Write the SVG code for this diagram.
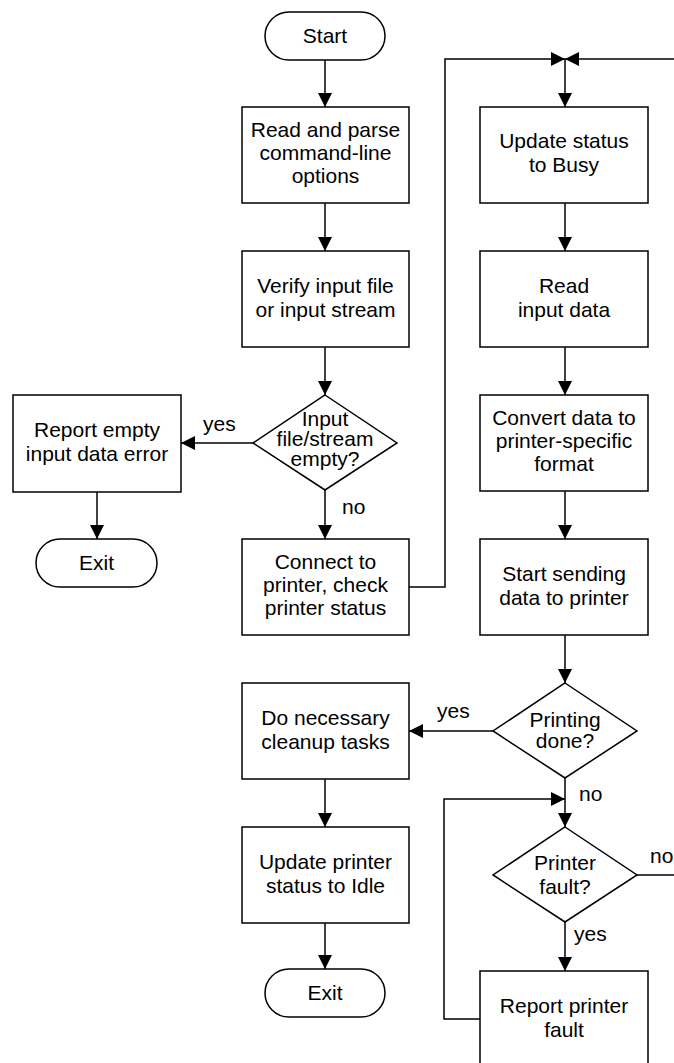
<svg xmlns="http://www.w3.org/2000/svg" width="674" height="1063" viewBox="0 0 674 1063">
<defs>
<marker id="ah" markerUnits="userSpaceOnUse" markerWidth="14" markerHeight="14" viewBox="0 0 14 14" refX="14" refY="7" orient="auto">
<path d="M0,0 L14,7 L0,14 Z" fill="#000"/>
</marker>
<style>
.n{fill:#fff;stroke:#000;stroke-width:1.5}
.c{fill:none;stroke:#000;stroke-width:1.5}
.a{marker-end:url(#ah)}
text{font-family:"Liberation Sans",Arial,sans-serif;font-size:21px;fill:#000;text-anchor:middle}
.l{text-anchor:start}
</style>
</defs>
<rect width="674" height="1063" fill="#fff"/>
<g id="connectors">
<path class="c a" d="M325,60 V107"/>
<path class="c a" d="M325,203 V251"/>
<path class="c a" d="M325,347 V395"/>
<path class="c a" d="M253,443 H181"/>
<path class="c a" d="M97,492 V539"/>
<path class="c a" d="M325,490 V539"/>
<path class="c a" d="M409,587 H445 V59 H565"/>
<path class="c a" d="M674,59 H565"/>
<path class="c a" d="M565,59 V107"/>
<path class="c a" d="M565,203 V251"/>
<path class="c a" d="M565,347 V395"/>
<path class="c a" d="M565,491 V539"/>
<path class="c a" d="M565,635 V683"/>
<path class="c a" d="M493,731 H409"/>
<path class="c a" d="M325,779 V827"/>
<path class="c a" d="M325,923 V969"/>
<path class="c a" d="M565,778 V827"/>
<path class="c a" d="M480,1019 H444 V799 H565"/>
<path class="c" d="M637,875 H674"/>
<path class="c a" d="M565,922 V971"/>
<text class="l" x="203" y="431">yes</text>
<text class="l" x="342" y="514">no</text>
<text class="l" x="437" y="718">yes</text>
<text class="l" x="579" y="801">no</text>
<text class="l" x="650" y="863">no</text>
<text class="l" x="574" y="941">yes</text>
</g>
<g id="start"><rect class="n" x="265" y="12" width="120" height="48" rx="24"/><text x="325" y="43">Start</text></g>
<g id="parse"><rect class="n" x="242" y="107" width="167" height="96"/><text x="325.5" y="137">Read and parse</text><text x="325.5" y="160">command-line</text><text x="325.5" y="183">options</text></g>
<g id="verify"><rect class="n" x="242" y="251" width="167" height="96"/><text x="325.5" y="293">Verify input file</text><text x="325.5" y="317">or input stream</text></g>
<g id="empty"><path class="n" d="M325,395 L397,443 L325,490 L253,443 Z"/><text x="325" y="426">Input</text><text x="325" y="446">file/stream</text><text x="325" y="466">empty?</text></g>
<g id="report_empty"><rect class="n" x="13" y="395" width="168" height="97"/><text x="97" y="437">Report empty</text><text x="97" y="461">input data error</text></g>
<g id="exit1"><rect class="n" x="36" y="539" width="121" height="48" rx="24"/><text x="96.5" y="570">Exit</text></g>
<g id="connect"><rect class="n" x="242" y="539" width="167" height="96"/><text x="325.5" y="569">Connect to</text><text x="325.5" y="592">printer, check</text><text x="325.5" y="615">printer status</text></g>
<g id="busy"><rect class="n" x="480" y="107" width="168" height="96"/><text x="564" y="148">Update status</text><text x="564" y="172">to Busy</text></g>
<g id="read"><rect class="n" x="480" y="251" width="168" height="96"/><text x="564" y="293">Read</text><text x="564" y="317">input data</text></g>
<g id="convert"><rect class="n" x="480" y="395" width="168" height="96"/><text x="564" y="425">Convert data to</text><text x="564" y="448">printer-specific</text><text x="564" y="471">format</text></g>
<g id="send"><rect class="n" x="480" y="539" width="168" height="96"/><text x="564" y="581">Start sending</text><text x="564" y="605">data to printer</text></g>
<g id="done"><path class="n" d="M565,683 L637,731 L565,778 L493,731 Z"/><text x="565" y="727">Printing</text><text x="565" y="748">done?</text></g>
<g id="cleanup"><rect class="n" x="242" y="683" width="167" height="96"/><text x="325.5" y="725">Do necessary</text><text x="325.5" y="749">cleanup tasks</text></g>
<g id="idle"><rect class="n" x="242" y="827" width="167" height="96"/><text x="325.5" y="869">Update printer</text><text x="325.5" y="893">status to Idle</text></g>
<g id="exit2"><rect class="n" x="265" y="969" width="120" height="48" rx="24"/><text x="325" y="1000">Exit</text></g>
<g id="fault"><path class="n" d="M565,827 L637,875 L565,922 L493,875 Z"/><text x="565" y="870">Printer</text><text x="565" y="894">fault?</text></g>
<g id="report_fault"><rect class="n" x="480" y="971" width="168" height="96"/><text x="564" y="1013">Report printer</text><text x="564" y="1037">fault</text></g>
</svg>
